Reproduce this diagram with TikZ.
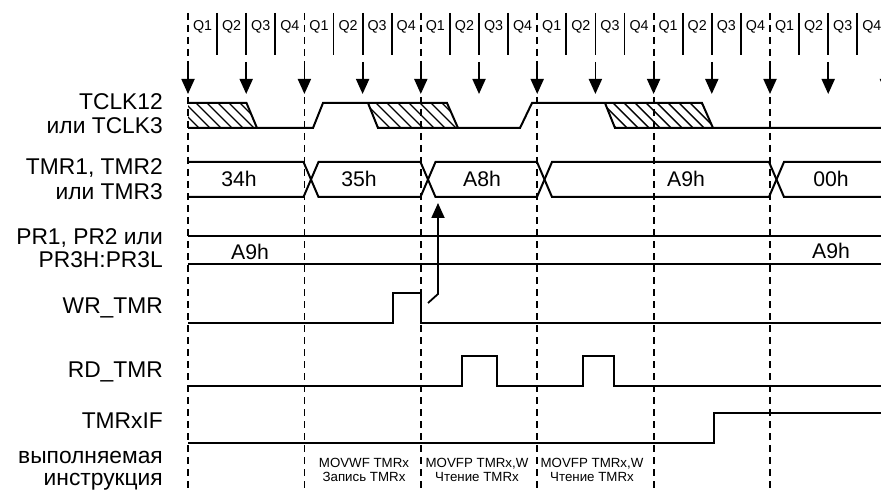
\documentclass[tikz,border=0pt]{standalone}
\usepackage{fontspec}
\setmainfont{Liberation Sans}
\usepackage{tikz}
\usetikzlibrary{arrows.meta}
\definecolor{inkblack}{RGB}{0,0,0}
\tikzset{
  wave/.style={line width=2bp,draw=inkblack,line join=miter},
  gridline/.style={line width=1.8bp,draw=inkblack,dash pattern=on 7bp off 5bp},
  qsep/.style={line width=1.8bp,draw=inkblack},
  hatchline/.style={line width=1.4bp,draw=inkblack},
  clkarr/.style={-{Triangle[length=15bp,width=13bp]},line width=1.8bp,draw=inkblack},
  signame/.style={anchor=base east,inner sep=0pt,text height=0.72em,text depth=0pt,
    font=\fontsize{22.8bp}{26bp}\selectfont},
  busval/.style={anchor=base,inner sep=0pt,font=\fontsize{21.2bp}{25bp}\selectfont},
  qname/.style={anchor=base,inner sep=0pt,font=\fontsize{14.3bp}{17bp}\selectfont},
  instrtext/.style={anchor=base,inner sep=0pt,text height=0.72em,text depth=0pt,
    font=\fontsize{13.3bp}{16bp}\selectfont}
}

\begin{document}
\begin{tikzpicture}[x=1bp,y=-1bp]
  \useasboundingbox (0,0) rectangle (881,490);
  \clip (0,0) rectangle (881,490);

  \foreach \k in {0,...,5}{
    \draw[gridline] ({188+116.4*\k},13) -- ({188+116.4*\k},490);
    \foreach \i in {1,2,3}{
      \draw[qsep] ({188+116.4*\k+29.1*\i},13) -- ++(0,42);
    }
    \foreach \i in {1,...,4}{
      \node[qname] (q\k\i) at ({188+116.4*\k+29.1*\i-14.55},30.5) {Q\i};
    }
  }

  \foreach \j in {0,...,12}{
    \draw[clkarr] ({188+58.2*\j},62) -- ({188+58.2*\j},94);
  }

  \node[signame] (nclk) at (163,110) {TCLK12};
  \node[signame] (nclkb) at (163,134) {или TCLK3};
  \node[signame] (ntmr) at (163,175) {TMR1, TMR2};
  \node[signame] (ntmrb) at (163,199.5) {или TMR3};
  \node[signame] (npr) at (163,245) {PR1, PR2 или};
  \node[signame] (nprb) at (163,267.5) {PR3H:PR3L};
  \node[signame] (nwr) at (163,314) {WR\_TMR};
  \node[signame] (nrd) at (163,377) {RD\_TMR};
  \node[signame] (nif) at (163,428) {TMRxIF};
  \node[signame] (nins) at (163,463) {выполняемая};
  \node[signame] (ninsb) at (163,485) {инструкция};

  \foreach \a/\b/\c/\d in {188/246.5/257/188,368/447/458/378,605/702/713/615}{
    \begin{scope}
      \clip (\a,103) -- (\b,103) -- (\c,128) -- (\d,128) -- cycle;
      \foreach \h in {0,11,...,143}{
        \draw[hatchline] ({\a-25+\h},103) -- ++(25,25);
      }
    \end{scope}
  }
  \draw[wave] (188,128) -- (313,128) -- (323,103) -- (447,103) -- (458,128)
    -- (520,128) -- (532,103) -- (702,103) -- (713,128) -- (881,128);
  \draw[wave] (188,103) -- (246.5,103) -- (257,128);
  \draw[wave] (368,103) -- (378,128) -- (458,128);
  \draw[wave] (605,103) -- (615,128) -- (713,128);

  \draw[wave] (188,162) -- (303.5,162) -- (318.5,197) -- (420.5,197) -- (435.5,162)
    -- (537,162) -- (552,197) -- (769,197) -- (784,162) -- (881,162);
  \draw[wave] (188,197) -- (303.5,197) -- (318.5,162) -- (420.5,162) -- (435.5,197)
    -- (537,197) -- (552,162) -- (769,162) -- (784,197) -- (881,197);

  \node[busval] (v34) at (239,187) {34h};
  \node[busval] (v35) at (359,187) {35h};
  \node[busval] (vA8) at (482,187) {A8h};
  \node[busval] (vA9) at (686,187) {A9h};
  \node[busval] (v00) at (831,187) {00h};

  \draw[wave] (188,236) -- (881,236);
  \draw[wave] (188,264) -- (881,264);
  \node[busval] (pA9) at (250,260) {A9h};
  \node[busval] (pA9b) at (831,259) {A9h};

  \draw[wave] (188,323) -- (393,323) -- (393,293) -- (421,293) -- (421,323) -- (881,323);

  \draw[wave] (188,386) -- (462,386) -- (462,356) -- (497,356) -- (497,386)
    -- (583,386) -- (583,356) -- (614,356) -- (614,386) -- (881,386);

  \draw[wave] (188,443) -- (714,443) -- (714,413) -- (881,413);

  \coordinate (wrtail) at (428,303);
  \coordinate (wrbend) at (438,294);
  \coordinate (tmrhit) at (438,203);
  \draw[clkarr] (wrtail) -- (wrbend) -- (tmrhit);

  \node[instrtext] (i1) at (364,467.5) {MOVWF TMRx};
  \node[instrtext] (i1b) at (364,481.5) {Запись TMRx};
  \node[instrtext] (i2) at (477,467.5) {MOVFP TMRx,W};
  \node[instrtext] (i2b) at (477,481.5) {Чтение TMRx};
  \node[instrtext] (i3) at (592,467.5) {MOVFP TMRx,W};
  \node[instrtext] (i3b) at (592,481.5) {Чтение TMRx};
\end{tikzpicture}
\end{document}
